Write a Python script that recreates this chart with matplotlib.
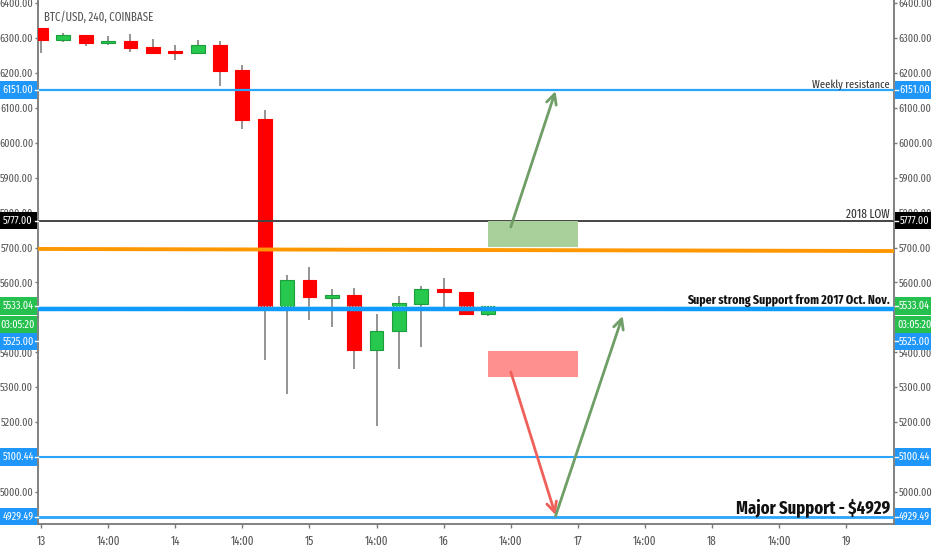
"""BTC/USD 4h chart with support and resistance levels."""

import matplotlib
matplotlib.use("Agg")

import matplotlib.pyplot as plt
import numpy as np
from matplotlib.patches import Rectangle
from matplotlib.transforms import blended_transform_factory

plt.rcParams["font.family"] = ["Fira Sans Extra Condensed", "Barlow Condensed", "Liberation Sans", "DejaVu Sans"]

OPENS = [6328, 6294, 6309, 6286, 6291, 6273, 6263, 6258, 6280, 6208, 6067,
         5533, 5607, 5556, 5565, 5406, 5460, 5539, 5580, 5573, 5510]
CLOSES = [6295, 6308, 6287, 6291, 6270, 6258, 6258, 6280, 6205, 6064, 5530,
          5607, 5557, 5565, 5406, 5462, 5540, 5580, 5572, 5510, 5533]
HIGHS = [6328, 6313, 6309, 6306, 6311, 6297, 6280, 6294, 6290, 6223, 6094,
         5621, 5645, 5580, 5583, 5509, 5562, 5590, 5612, 5573, 5533]
LOWS = [6256, 6289, 6277, 6280, 6261, 6256, 6237, 6258, 6163, 6040, 5378,
        5282, 5492, 5472, 5351, 5189, 5353, 5416, 5519, 5508, 5505]

X_TICKS = [0, 3, 6, 9, 12, 15, 18, 21, 24, 27, 30, 33, 36]
X_LABELS = ["13", "14:00", "14", "14:00", "15", "14:00", "16", "14:00", "17", "14:00", "18", "14:00", "19"]
Y_TICKS = [5000, 5100, 5200, 5300, 5400, 5500, 5600, 5700, 5800, 5900, 6000, 6100, 6200, 6300, 6400]
# these two sit fully behind a price tag in the reference
Y_HIDDEN = [5100, 5500]

WEEKLY_RESISTANCE = 6151.00
YEAR_LOW = 5777.00
STRONG_SUPPORT = 5525.00
LAST_PRICE = 5533.04
LOWER_SUPPORT = 5100.44
MAJOR_SUPPORT = 4929.49
TREND_X = [-0.2, 38.2]
TREND_Y = [5696, 5690]

GREEN_ZONE = (20, 24, 5702, 5777)
RED_ZONE = (20, 24, 5329, 5404)
ARROWS = [
    ((21, 5759), (23, 6148), "#6f9e66"),
    ((21, 5344), (23, 4934), "#f0605a"),
    ((23, 4931), (26, 5504), "#6f9e66"),
]

# label y differs from value where the tags would otherwise overlap
TAGS = [
    (WEEKLY_RESISTANCE, WEEKLY_RESISTANCE, "6151.00", "#1e96fa", "white"),
    (YEAR_LOW, YEAR_LOW, "5777.00", "#000000", "white"),
    (LAST_PRICE, LAST_PRICE, "5533.04", "#26c04e", "white"),
    (None, 5478, "03:05:20", "#26c04e", "white"),
    (STRONG_SUPPORT, 5431, "5525.00", "#1e96fa", "white"),
    (LOWER_SUPPORT, LOWER_SUPPORT, "5100.44", "#1e96fa", "white"),
    (MAJOR_SUPPORT, MAJOR_SUPPORT, "4929.49", "#1e96fa", "white"),
]

RED = "#ff0000"
GREEN = "#26c84d"
BLUE = "#2ba4fb"
TEXT = "#555555"
SPINE = "#777777"

fig = plt.figure(figsize=(9.32, 5.5), dpi=100, facecolor="white")
ax = fig.add_axes([37.5 / 932, 26 / 550, 856.5 / 932, 524 / 550])
ax.set_xlim(-0.156, 38.13)
ax.set_ylim(4908.4, 6408.8)

for side in ["left", "right", "bottom"]:
    ax.spines[side].set_color(SPINE)
    ax.spines[side].set_linewidth(1.3)
ax.spines["top"].set_visible(False)

ax.set_xticks(X_TICKS, X_LABELS)
ax.set_yticks(Y_TICKS, ["" if v in Y_HIDDEN else f"{v:.2f}" for v in Y_TICKS])
ax.tick_params(axis="y", left=True, right=True, labelleft=True, labelright=True,
               length=2.5, width=1, color=SPINE, labelcolor=TEXT, labelsize=7.9, pad=0.6)
ax.tick_params(axis="x", length=3, width=1, color=SPINE, labelcolor=TEXT, labelsize=8.6, pad=5)

# Candles
idx = np.arange(len(OPENS))
opens = np.array(OPENS, dtype=float)
closes = np.array(CLOSES, dtype=float)
up = closes >= opens
ax.vlines(idx, LOWS, HIGHS, color="#777777", linewidth=1.1, zorder=2)
ax.bar(idx, np.abs(closes - opens), bottom=np.minimum(opens, closes), width=0.62,
       color=[GREEN if u else RED for u in up],
       edgecolor=["#1c9e3c" if u else RED for u in up], linewidth=0.8, zorder=3)

# Levels
ax.axhline(WEEKLY_RESISTANCE, color=BLUE, linewidth=1.6, zorder=4)
ax.axhline(YEAR_LOW, color="#444444", linewidth=1.4, zorder=4)
ax.plot(TREND_X, TREND_Y, color="#ff9800", linewidth=2.8, zorder=4)
ax.axhline(STRONG_SUPPORT, color="#0e9bfb", linewidth=3.2, zorder=4)
ax.axhline(LAST_PRICE, color="#9fdcf5", linewidth=0.8, linestyle=":", zorder=5)
ax.axhline(LOWER_SUPPORT, color=BLUE, linewidth=1.5, zorder=4)
ax.axhline(MAJOR_SUPPORT, color=BLUE, linewidth=2.0, zorder=4)

# Zones and arrows
for (x0, x1, y0, y1), colour in [(GREEN_ZONE, "#a9cf9a"), (RED_ZONE, "#ff9090")]:
    ax.add_patch(Rectangle((x0, y0), x1 - x0, y1 - y0, facecolor=colour, edgecolor="none", zorder=5))
for start, end, colour in ARROWS:
    ax.annotate("", xy=end, xytext=start, zorder=6,
                arrowprops=dict(arrowstyle="->", color=colour, linewidth=2.0,
                                mutation_scale=18, shrinkA=0, shrinkB=0))

# Annotations
right_edge = blended_transform_factory(fig.dpi_scale_trans, ax.transData)
label_x = 890 / 100
ax.text(label_x, 6168, "Weekly resistance", transform=right_edge, ha="right", va="center",
        fontsize=8.2, color="#333333", zorder=7)
ax.text(label_x, 5795, "2018 LOW", transform=right_edge, ha="right", va="center",
        fontsize=8.8, color="#333333", zorder=7)
ax.text(label_x, 5547, "Super strong Support from 2017 Oct. Nov.", transform=right_edge, ha="right",
        va="center", fontsize=9.2, fontweight="bold", color="#111111", zorder=7)
ax.text(label_x, 4955, "Major Support - $4929", transform=right_edge, ha="right", va="center",
        fontsize=13, fontweight="bold", color="#111111", zorder=7)
ax.text(44 / 932, 1 - 17 / 550, "BTC/USD, 240, COINBASE", transform=fig.transFigure, ha="left",
        va="center", fontsize=8.6, color="#555555")

# Price tags on both scales
tag_h = 17.5 / 0.3492
trans = blended_transform_factory(fig.transFigure, ax.transData)
for value, label_y, label, bg, fg in TAGS:
    for x0, x1, tx, tick in [(0, 36.5, 18, (34.5, 37.5)), (895, 931, 914.5, (894.5, 897.5))]:
        ax.add_patch(Rectangle((x0 / 932, label_y - tag_h / 2), (x1 - x0) / 932, tag_h, transform=trans,
                               facecolor=bg, edgecolor="none", clip_on=False, zorder=8))
        ax.text(tx / 932, label_y, label, transform=trans, ha="center", va="center",
                fontsize=7.9, color=fg, zorder=9, clip_on=False)
        if value is not None:
            ax.plot([tick[0] / 932, tick[1] / 932], [label_y, label_y], transform=trans,
                    color="white", linewidth=1, clip_on=False, zorder=9)

fig.savefig("out.png", dpi=100, facecolor="white")
plt.close(fig)
